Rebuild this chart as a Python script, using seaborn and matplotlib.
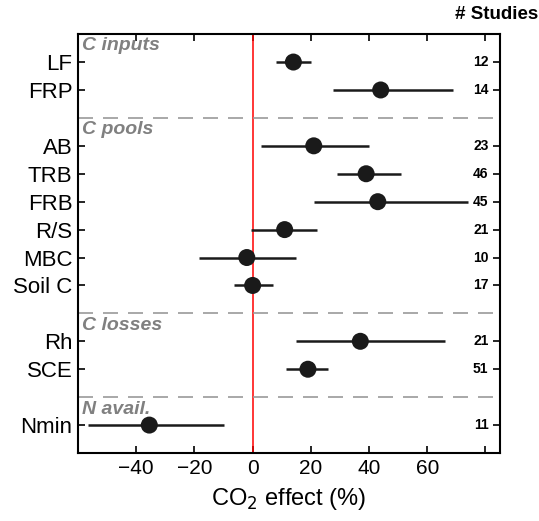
import matplotlib
matplotlib.use("Agg")
import matplotlib.pyplot as plt
import numpy as np
import pandas as pd
import seaborn as sns

# datos
variables = ["LF", "FRP", "AB", "TRB", "FRB", "R/S", "MBC", "Soil C", "Rh", "SCE", "Nmin"]
fila = [1, 2, 4, 5, 6, 7, 8, 9, 11, 12, 14]
efecto = [14, 44, 21, 39, 43, 11, -2, 0, 37, 19, -35.5]
ci_bajo = [8, 27.5, 3, 29, 21, -0.7, -18.5, -6.5, 15, 11.3, -56.5]
ci_alto = [20, 69, 40, 51, 74, 22, 15, 7, 66, 26, -10]
estudios = [12, 14, 23, 46, 45, 21, 10, 17, 21, 51, 11]

grupos = ["C inputs", "C pools", "C losses", "N avail."]
grupo_inicio = [0, 3, 10, 13]
separadores = [3, 10, 13]

df = pd.DataFrame({"var": variables, "fila": fila, "efecto": efecto,
                   "lo": ci_bajo, "hi": ci_alto, "n": estudios})

sns.set_style("ticks")
plt.rcParams['font.family'] = ['Liberation Sans', 'DejaVu Sans']
plt.rcParams['text.color'] = 'black'
plt.rcParams['axes.labelcolor'] = 'black'
plt.rcParams['xtick.color'] = 'black'
plt.rcParams['ytick.color'] = 'black'

fig = plt.figure(figsize=(5.39, 5.21), dpi=100)
ax = fig.add_axes([0.1447, 0.1305, 0.783, 0.804])

ax.axvline(0, color="#ff0000", lw=1.1, zorder=1)
for s in separadores:
    ax.axhline(s, color="#999999", lw=1.2, dashes=(9, 6), zorder=1)

ax.hlines(df["fila"], df["lo"], df["hi"], color="#1a1a1a", lw=1.8, zorder=2)
sns.scatterplot(data=df, x="efecto", y="fila", ax=ax, color="#1a1a1a",
                s=150, edgecolor="none", zorder=3, legend=False)

for g, y0 in zip(grupos, grupo_inicio):
    ax.text(-58.5, y0 + 0.12, g, color="#808080", fontsize=14, fontweight="bold",
            fontstyle="italic", va="top", ha="left")

for y, n in zip(df["fila"], df["n"]):
    ax.text(81, y, str(n), fontsize=10, fontweight="bold", ha="right", va="center")

fig.text(0.998, 0.973, "# Studies", fontsize=13.5, fontweight="bold",
         ha="right", va="center")

ax.set_xlim(-60, 85)
ax.set_ylim(15, 0)
ax.set_yticks(fila)
ax.set_yticklabels(variables, fontsize=16)
ax.set_xticks([-40, -20, 0, 20, 40, 60, 80])
ax.set_xticklabels(["\u221240", "\u221220", "0", "20", "40", "60", ""], fontsize=15)
ax.tick_params(direction="in", top=True, right=True, length=5, width=1.2, pad=4)
ax.set_xlabel("CO$_2$ effect (%)", fontsize=17, labelpad=6)
ax.set_ylabel("")
for sp in ax.spines.values():
    sp.set_linewidth(1.5)
    sp.set_color("black")

fig.savefig("out.png", dpi=100)
